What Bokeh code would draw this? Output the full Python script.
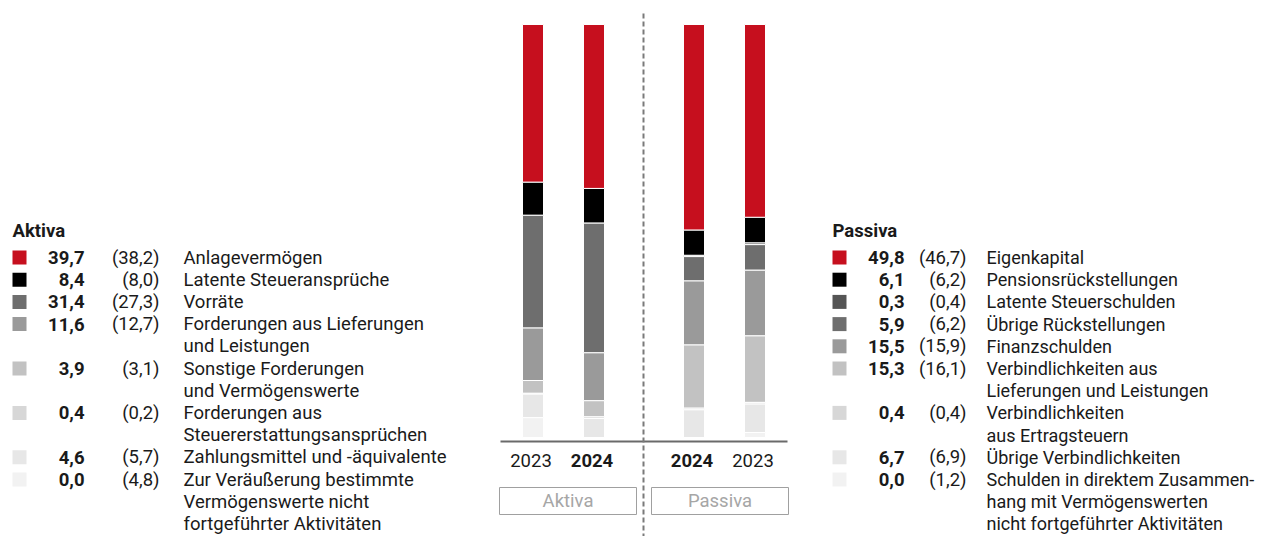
from bokeh.plotting import figure
from bokeh.models import Range1d, ColumnDataSource
from bokeh.core.properties import value
from bokeh.embed import file_html
from bokeh.resources import INLINE

# ---------------- data ----------------
aktiva_labels = [
    "Anlagevermögen",
    "Latente Steueransprüche",
    "Vorräte",
    "Forderungen aus Lieferungen\nund Leistungen",
    "Sonstige Forderungen\nund Vermögenswerte",
    "Forderungen aus\nSteuererstattungsansprüchen",
    "Zahlungsmittel und -äquivalente",
    "Zur Veräußerung bestimmte\nVermögenswerte nicht\nfortgeführter Aktivitäten",
]
aktiva_2024 = [39.7, 8.4, 31.4, 11.6, 3.9, 0.4, 4.6, 0.0]
aktiva_2023 = [38.2, 8.0, 27.3, 12.7, 3.1, 0.2, 5.7, 4.8]
aktiva_colors = ["#c60f1e", "#000000", "#6e6e6e", "#9a9a9a", "#c2c2c2", "#d7d7d7", "#e7e7e7", "#f2f2f2"]

passiva_labels = [
    "Eigenkapital",
    "Pensionsrückstellungen",
    "Latente Steuerschulden",
    "Übrige Rückstellungen",
    "Finanzschulden",
    "Verbindlichkeiten aus\nLieferungen und Leistungen",
    "Verbindlichkeiten\naus Ertragsteuern",
    "Übrige Verbindlichkeiten",
    "Schulden in direktem Zusammen-\nhang mit Vermögenswerten\nnicht fortgeführter Aktivitäten",
]
passiva_2024 = [49.8, 6.1, 0.3, 5.9, 15.5, 15.3, 0.4, 6.7, 0.0]
passiva_2023 = [46.7, 6.2, 0.4, 6.2, 15.9, 16.1, 0.4, 6.9, 1.2]
passiva_colors = ["#c60f1e", "#000000", "#555555", "#6e6e6e", "#9a9a9a", "#c2c2c2", "#d7d7d7", "#e7e7e7", "#f2f2f2"]

bar_years = ["2023", "2024", "2024", "2023"]
group_names = ["Aktiva", "Passiva"]


def fmt(v):
    return f"{v:.1f}".replace(".", ",")


# ---------------- layout ----------------
W, H = 1259, 536
OFF = 0                     # picture offset of the figure
PX_PER_UNIT = 4.13          # vertical pixels per percent
BASE_PY = 437               # picture y of 0 %
y0 = -(H - (BASE_PY - OFF)) / PX_PER_UNIT
y1 = y0 + H / PX_PER_UNIT


def Y(py):
    """picture pixel y -> data y"""
    return (BASE_PY - py) / PX_PER_UNIT


def X(px):
    return px - OFF


p = figure(width=W, height=H, output_backend="svg", toolbar_location=None,
           x_range=Range1d(0, W), y_range=Range1d(y0, y1),
           min_border=0, outline_line_color=None)
p.axis.visible = False
p.grid.visible = False
p.background_fill_color = "white"
p.border_fill_color = "white"

FONT = value("Roboto")
FS = "18.5px"
BAR_W = 21

# ---------------- stacked bars ----------------
def stack(xc, vals, colors):
    tops, bottoms = [], []
    acc = 100.0
    for v in vals:
        tops.append(acc)
        acc -= v
        bottoms.append(acc)
    src = ColumnDataSource(dict(x=[xc] * len(vals), top=tops, bottom=bottoms, color=colors))
    p.vbar(x="x", top="top", bottom="bottom", width=BAR_W, fill_color="color",
           line_color="white", line_width=1, source=src)

bar_centers = [X(532.5), X(593.5), X(693.5), X(754.5)]
stack(bar_centers[0], aktiva_2023, aktiva_colors)
stack(bar_centers[1], aktiva_2024, aktiva_colors)
stack(bar_centers[2], passiva_2024, passiva_colors)
stack(bar_centers[3], passiva_2023, passiva_colors)

# baseline
p.segment(x0=X(500), x1=X(787), y0=Y(441), y1=Y(441), line_color="#6a6a6a", line_width=2)

# dashed divider
p.segment(x0=X(643), x1=X(643), y0=Y(13), y1=Y(552), line_color="#7a7a7a",
          line_width=2, line_dash="5 3")

# year labels
for i, (xc, yr) in enumerate(zip(bar_centers, bar_years)):
    bold = i in (1, 2)
    p.text(x=[xc - 2], y=[Y(460)], text=[yr], text_font=FONT, text_font_size=FS,
           text_font_style="bold" if bold else "normal",
           text_align="center", text_baseline="middle", text_color="#1a1a1a")

# group boxes
boxes = [(X(499), X(636)), (X(651), X(788))]
for (bx0, bx1), name in zip(boxes, group_names):
    p.quad(left=bx0, right=bx1, top=Y(487), bottom=Y(514), fill_color="white",
           line_color="#a0a0a0", line_width=1)
    p.text(x=[(bx0 + bx1) / 2], y=[Y(500.5)], text=[name], text_font=FONT,
           text_font_size=FS, text_align="center", text_baseline="middle",
           text_color="#a6a6a6")

# ---------------- legends ----------------
LINE = 22.2
ROW0 = 257


def legend(title, labels, cur, prev, colors, sw_x, val_x, prev_x, lab_x, lab_fs):
    p.text(x=[X(sw_x)], y=[Y(230)], text=[title], text_font=FONT, text_font_size=FS,
           text_font_style="bold", text_baseline="middle", text_color="#1a1a1a")
    row = 0
    for lab, c, pv, col in zip(labels, cur, prev, colors):
        py = ROW0 + row * LINE
        p.quad(left=X(sw_x), right=X(sw_x + 14), top=Y(py - 7), bottom=Y(py + 7),
               fill_color=col, line_color=None)
        p.text(x=[X(val_x)], y=[Y(py)], text=[fmt(c)], text_font=FONT, text_font_size=FS,
               text_font_style="bold", text_align="right", text_baseline="middle",
               text_color="#1a1a1a")
        p.text(x=[X(prev_x)], y=[Y(py)], text=["(" + fmt(pv) + ")"], text_font=FONT,
               text_font_size=FS, text_align="right", text_baseline="middle",
               text_color="#1a1a1a")
        for j, part in enumerate(lab.split("\n")):
            p.text(x=[X(lab_x)], y=[Y(py + j * LINE)], text=[part], text_font=FONT,
                   text_font_size=lab_fs, text_baseline="middle", text_color="#1a1a1a")
        row += len(lab.split("\n"))


legend("Aktiva", aktiva_labels, aktiva_2024, aktiva_2023, aktiva_colors, 12, 84, 159, 183, FS)
legend("Passiva", passiva_labels, passiva_2024, passiva_2023, passiva_colors, 832, 904, 966, 986, "18px")

open("out.html", "w").write(file_html(p, INLINE))
